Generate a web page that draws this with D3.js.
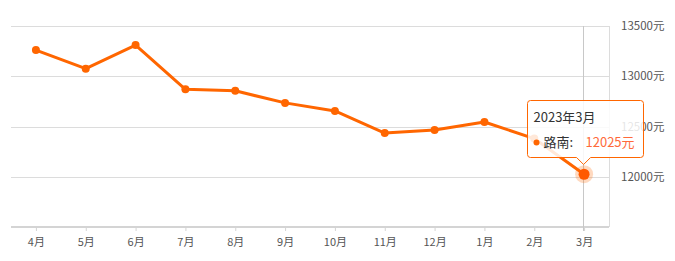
<!DOCTYPE html>
<html>
<head>
<meta charset="utf-8">
<script src="https://d3js.org/d3.v7.min.js"></script>
<style>
  body { margin: 0; background: #fff; }
  text { font-family: "Microsoft YaHei", "Noto Sans CJK SC", sans-serif; }
</style>
</head>
<body>
<svg width="675" height="261"></svg>
<script>
const months = ["4月", "5月", "6月", "7月", "8月", "9月", "10月", "11月", "12月", "1月", "2月", "3月"];
const prices = [13260, 13075, 13310, 12870, 12855, 12735, 12655, 12435, 12465, 12545, 12380, 12025];
const yTicks = [12000, 12500, 13000, 13500];
const tipTitle = "2023年3月";
const tipName = "路南";

const svg = d3.select("svg");
const plotLeft = 11, plotRight = 609, plotTop = 26, plotBottom = 227;

const x = d3.scalePoint().domain(months).range([plotLeft, plotRight]).padding(0.5);
const y = d3.scaleLinear().domain([11500, 13500]).range([plotBottom, plotTop]);

// grid lines
svg.append("g").selectAll("line").data(yTicks).join("line")
  .attr("x1", plotLeft).attr("x2", plotRight)
  .attr("y1", d => Math.round(y(d)) + 0.5).attr("y2", d => Math.round(y(d)) + 0.5)
  .attr("stroke", "#dcdcdc");

// right border
svg.append("line")
  .attr("x1", plotRight + 0.5).attr("x2", plotRight + 0.5)
  .attr("y1", plotTop).attr("y2", plotBottom)
  .attr("stroke", "#dcdcdc");

// right labels
svg.append("g").selectAll("text").data(yTicks).join("text")
  .attr("x", 621).attr("y", d => y(d) + 4)
  .attr("font-size", 11.5).attr("fill", "#555")
  .text(d => d + "元");

// bottom axis
const xAxis = svg.append("g")
  .attr("transform", `translate(0,${plotBottom})`)
  .call(d3.axisBottom(x).tickSize(4).tickPadding(7));
xAxis.select(".domain").attr("stroke", "#d4d4d4").attr("stroke-width", 2)
  .attr("d", `M${plotLeft},0H${plotRight}`);
xAxis.selectAll(".tick line").attr("stroke", "#d4d4d4");
xAxis.selectAll(".tick text").attr("fill", "#555").attr("font-size", 11)
  .style("font-family", "'Microsoft YaHei', 'Noto Sans CJK SC', sans-serif");

// hover crosshair
const last = months.length - 1;
const hx = Math.round(x(months[last])) - 0.5;
svg.append("line")
  .attr("x1", hx).attr("x2", hx)
  .attr("y1", plotTop).attr("y2", plotBottom + 4)
  .attr("stroke", "#c8c8c8");

// line
const line = d3.line().x((d, i) => x(months[i])).y(d => y(d));
svg.append("path")
  .datum(prices)
  .attr("d", line)
  .attr("fill", "none")
  .attr("stroke", "#ff6600")
  .attr("stroke-width", 3)
  .attr("stroke-linejoin", "round");

svg.append("g").selectAll("circle").data(prices.slice(0, last)).join("circle")
  .attr("cx", (d, i) => x(months[i]))
  .attr("cy", d => y(d))
  .attr("r", 4)
  .attr("fill", "#ff6600");

// highlighted point
svg.append("circle")
  .attr("cx", x(months[last])).attr("cy", y(prices[last]))
  .attr("r", 9).attr("fill", "#ff6600").attr("opacity", 0.25);
svg.append("circle")
  .attr("cx", x(months[last])).attr("cy", y(prices[last]))
  .attr("r", 5.5).attr("fill", "#ff5a00");

// tooltip
const tx = 527.5, ty = 100.5, tw = 116, th = 57;
const ax = x(months[last]) - 0.5;
const tip = svg.append("g");
tip.append("path")
  .attr("d", `M${tx + 3},${ty} H${tx + tw - 3} Q${tx + tw},${ty} ${tx + tw},${ty + 3} V${ty + th - 3} Q${tx + tw},${ty + th} ${tx + tw - 3},${ty + th}
    H${ax + 7} L${ax},${ty + th + 7} L${ax - 7},${ty + th} H${tx + 3} Q${tx},${ty + th} ${tx},${ty + th - 3} V${ty + 3} Q${tx},${ty} ${tx + 3},${ty} Z`)
  .attr("fill", "rgba(255,255,255,0.85)")
  .attr("stroke", "#ff6600")
  .attr("stroke-width", 1);
tip.append("text")
  .attr("x", tx + 6).attr("y", ty + 21)
  .attr("font-size", 13).attr("fill", "#333")
  .text(tipTitle);
tip.append("circle")
  .attr("cx", tx + 9).attr("cy", ty + 42).attr("r", 3)
  .attr("fill", "#ff6600");
tip.append("text")
  .attr("x", tx + 16).attr("y", ty + 46)
  .attr("font-size", 13).attr("fill", "#333")
  .text(tipName + ":");
tip.append("text")
  .attr("x", tx + 58).attr("y", ty + 46)
  .attr("font-size", 13).attr("fill", "#ff6a3a")
  .text(prices[last] + "元");
</script>
</body>
</html>
